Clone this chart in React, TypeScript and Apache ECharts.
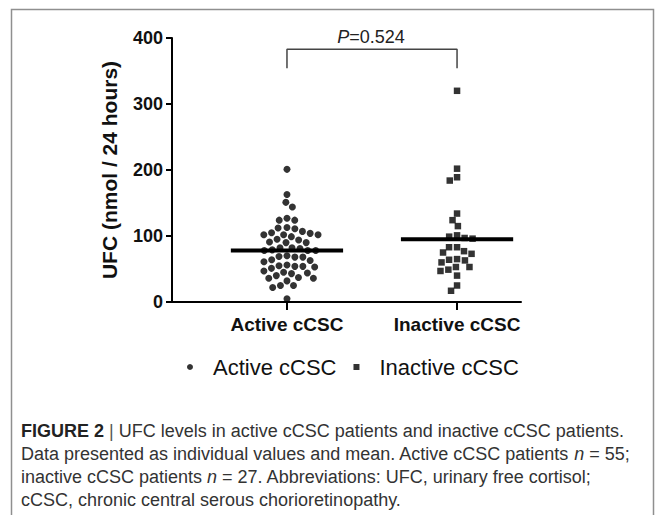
import React, { useEffect, useRef } from "react";
import * as echarts from "echarts";

const categories = ["Active cCSC", "Inactive cCSC"];
const activeValues = [
  201, 163, 151, 144, 127, 124, 124, 113, 112, 111, 107, 105, 104, 102, 102,
  102, 99, 95, 94, 91, 90, 90, 82, 82, 81, 79, 78, 78, 78, 70, 69, 68, 68, 64,
  63, 61, 56, 55, 54, 54, 53, 51, 47, 45, 44, 43, 40, 37, 36, 36, 32, 25, 25,
  22, 5,
];
const inactiveValues = [
  320, 202, 189, 184, 134, 124, 115, 101, 99, 97, 96, 83, 83, 77, 75, 73, 65,
  64, 63, 60, 53, 53, 49, 47, 40, 25, 17,
];
const meanValues = [78, 95];
const yTicks = [0, 100, 200, 300, 400];
const pValueText = "0.524";
const captionLines = [
  [{ t: "FIGURE 2", s: "b" }, { t: " | ", s: "g" }, { t: "UFC levels in active cCSC patients and inactive cCSC patients.", s: "n" }],
  [{ t: "Data presented as individual values and mean. Active cCSC patients ", s: "n" }, { t: "n", s: "i" }, { t: " = 55;", s: "n" }],
  [{ t: "inactive cCSC patients ", s: "n" }, { t: "n", s: "i" }, { t: " = 27. Abbreviations: UFC, urinary free cortisol;", s: "n" }],
  [{ t: "cCSC, chronic central serous chorioretinopathy.", s: "n" }],
];

const W = 665;
const H = 515;
const GRID_LEFT = 172;
const GRID_RIGHT = 521;
const GRID_TOP = 38;
const GRID_BOTTOM = 302;
const X_MIN = -0.676;
const X_MAX = 1.376;
const Y_MAX = 400;

function swarm(values: number[], center: number, d: number) {
  const pxPerX = (GRID_RIGHT - GRID_LEFT) / (X_MAX - X_MIN);
  const pxPerY = (GRID_BOTTOM - GRID_TOP) / Y_MAX;
  const order = values.map((v, i) => i).sort((a, b) => values[b] - values[a]);
  const placed: { x: number; y: number }[] = [];
  const out: number[][] = new Array(values.length);
  order.forEach((idx) => {
    const y = values[idx] * pxPerY;
    const cands = [0];
    placed.forEach((p) => {
      const dy = Math.abs(p.y - y);
      if (dy < d) {
        const dx = Math.sqrt(d * d - dy * dy);
        cands.push(p.x + dx, p.x - dx);
      }
    });
    cands.sort((a, b) => Math.abs(a) - Math.abs(b) || a - b);
    let chosen = 0;
    for (const c of cands) {
      const ok = placed.every((p) => {
        const dx = p.x - c;
        const dy = p.y - y;
        return dx * dx + dy * dy >= d * d - 1e-6;
      });
      if (ok) {
        chosen = c;
        break;
      }
    }
    placed.push({ x: chosen, y });
    out[idx] = [center + chosen / pxPerX, values[idx]];
  });
  return out;
}

export default function App() {
  const ref = useRef<HTMLDivElement>(null);
  useEffect(() => {
    if (!ref.current) return;
    const chart = echarts.init(ref.current, null, { renderer: "svg" });
    const font = "Liberation Sans, Arial, Helvetica, sans-serif";
    const halfW = 0.33;
    const bracketTop = 383;
    const bracketBottom = 354;
    const capSize = 18;
    const captionGraphics = captionLines.map((parts, i) => ({
      type: "text",
      left: 21,
      top: 422 + i * 23,
      style: {
        text: parts.map((p) => `{${p.s}|${p.t}}`).join(""),
        rich: {
          n: { fontFamily: font, fontSize: capSize, fill: "#333" },
          i: { fontFamily: font, fontSize: capSize, fill: "#333", fontStyle: "italic" },
          b: { fontFamily: font, fontSize: capSize, fill: "#222", fontWeight: "bold" },
          g: { fontFamily: font, fontSize: capSize, fill: "#555" },
        },
      },
    }));
    chart.setOption({
      animation: false,
      textStyle: { fontFamily: font },
      grid: {
        left: GRID_LEFT,
        right: W - GRID_RIGHT,
        top: GRID_TOP,
        bottom: H - GRID_BOTTOM,
        containLabel: false,
      },
      legend: {
        data: [
          { name: categories[0], icon: "circle" },
          { name: categories[1], icon: "rect" },
        ],
        left: 182,
        top: 351,
        itemWidth: 6,
        itemHeight: 6,
        itemGap: 17,
        textStyle: {
          fontFamily: font,
          fontSize: 22,
          color: "#111",
          padding: [0, 0, 0, 15],
        },
      },
      xAxis: {
        type: "value",
        min: X_MIN,
        max: X_MAX,
        splitLine: { show: false },
        axisLine: { show: true, onZero: false, lineStyle: { color: "#000", width: 2 } },
        axisTick: {
          show: true,
          customValues: [0, 1],
          length: 8,
          lineStyle: { color: "#000", width: 2 },
        },
        axisLabel: {
          customValues: [0, 1],
          formatter: (v: number) => categories[Math.round(v)] ?? "",
          fontSize: 19,
          fontWeight: "bold",
          color: "#111",
          margin: 13,
        },
      },
      yAxis: {
        type: "value",
        min: 0,
        max: Y_MAX,
        interval: 100,
        name: "UFC (nmol / 24 hours)",
        nameLocation: "middle",
        nameGap: 52,
        nameTextStyle: { fontSize: 21, fontWeight: "bold", color: "#111", fontFamily: font },
        splitLine: { show: false },
        axisLine: { show: true, onZero: false, lineStyle: { color: "#000", width: 2 } },
        axisTick: { show: true, length: 6, lineStyle: { color: "#000", width: 2 } },
        axisLabel: {
          fontSize: 18,
          fontWeight: "bold",
          color: "#111",
          margin: 9,
          formatter: (v: number) => (yTicks.includes(v) ? String(v) : ""),
        },
      },
      graphic: [
        {
          type: "rect",
          shape: { x: 11.5, y: 9.5, width: 642, height: 530 },
          style: { fill: "none", stroke: "#8f8f8f", lineWidth: 1.5 },
          z: -1,
        },
        {
          type: "text",
          x: 371,
          y: 37,
          style: {
            text: `{i|P}{n|=${pValueText}}`,
            align: "center",
            verticalAlign: "middle",
            rich: {
              i: { fontFamily: font, fontSize: 18, fontStyle: "italic", fill: "#222" },
              n: { fontFamily: font, fontSize: 18, fill: "#222" },
            },
          },
        },
        ...captionGraphics,
      ],
      series: [
        {
          name: categories[0],
          type: "scatter",
          symbol: "circle",
          symbolSize: 7,
          itemStyle: { color: "#000" },
          data: swarm(activeValues, 0, 8),
          z: 3,
        },
        {
          name: categories[1],
          type: "scatter",
          symbol: "rect",
          symbolSize: 6.5,
          itemStyle: { color: "#000" },
          data: swarm(inactiveValues, 1, 8),
          z: 3,
        },
        ...meanValues.map((m, i) => ({
          name: "mean" + i,
          type: "line",
          symbol: "none",
          lineStyle: { color: "#000", width: 4 },
          data: [
            [i - halfW, m],
            [i + halfW, m],
          ],
          z: 4,
        })),
        {
          name: "bracket",
          type: "line",
          symbol: "none",
          lineStyle: { color: "#444", width: 1.5 },
          data: [
            [0, bracketBottom],
            [0, bracketTop],
            [1, bracketTop],
            [1, bracketBottom],
          ],
        },
      ],
    });
    return () => chart.dispose();
  }, []);
  return (
    <div
      ref={ref}
      style={{ position: "fixed", left: 0, top: 0, width: W, height: H, background: "#fff" }}
    />
  );
}
